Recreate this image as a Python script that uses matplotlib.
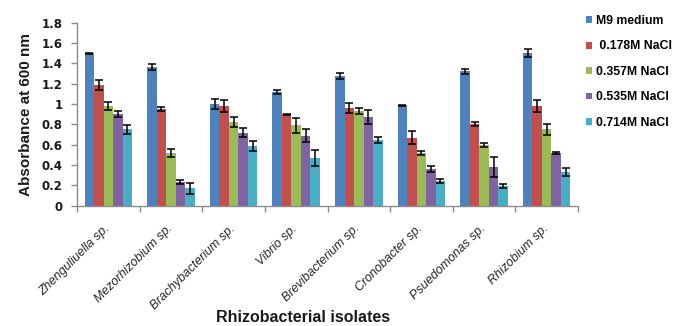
import numpy as np
import matplotlib
matplotlib.use("Agg")
import matplotlib.pyplot as plt
from matplotlib.patches import Patch
from matplotlib import transforms

# Absorbance (OD600) of rhizobacterial isolates under increasing NaCl
isolates = ["Zhenguliuella sp.", "Mezorhizobium sp.", "Brachybacterium sp.",
            "Vibrio sp.", "Brevibacterium sp.", "Cronobacter sp.",
            "Psuedomonas sp.", "Rhizobium sp."]
series_names = ["M9 medium", " 0.178M NaCl", "0.357M NaCl",
                "0.535M NaCl", "0.714M NaCl"]

m9_medium = [1.50, 1.36, 1.00, 1.12, 1.28, 0.99, 1.32, 1.50]
nacl_0178 = [1.19, 0.95, 0.98, 0.90, 0.96, 0.67, 0.80, 0.98]
nacl_0357 = [0.98, 0.52, 0.82, 0.79, 0.93, 0.52, 0.60, 0.75]
nacl_0535 = [0.90, 0.23, 0.72, 0.69, 0.87, 0.36, 0.38, 0.52]
nacl_0714 = [0.75, 0.17, 0.59, 0.47, 0.65, 0.24, 0.19, 0.33]

m9_err = [0.005, 0.03, 0.05, 0.02, 0.03, 0.005, 0.02, 0.04]
nacl_0178_err = [0.05, 0.02, 0.06, 0.005, 0.05, 0.06, 0.02, 0.06]
nacl_0357_err = [0.04, 0.04, 0.05, 0.07, 0.03, 0.02, 0.02, 0.05]
nacl_0535_err = [0.03, 0.02, 0.04, 0.06, 0.07, 0.03, 0.10, 0.01]
nacl_0714_err = [0.04, 0.05, 0.05, 0.08, 0.03, 0.02, 0.02, 0.04]

yticks = [0, 0.2, 0.4, 0.6, 0.8, 1.0, 1.2, 1.4, 1.6, 1.8]
ytick_labels = ["0", "0.2", "0.4", "0.6", "0.8", "1", "1.2", "1.4", "1.6", "1.8"]

values = [m9_medium, nacl_0178, nacl_0357, nacl_0535, nacl_0714]
errors = [m9_err, nacl_0178_err, nacl_0357_err, nacl_0535_err, nacl_0714_err]
colors = ["#4F81BD", "#C0504D", "#9BBB59", "#8064A2", "#4BACC6"]

W, H = 673, 326
fig = plt.figure(figsize=(W / 100, H / 100), dpi=100)
ax = fig.add_axes([77 / W, 120.3 / H, (578 - 77) / W, (205.7 - 22.7) / H])

x = np.arange(len(isolates))
bw = 0.152
for i, (vals, errs, col) in enumerate(zip(values, errors, colors)):
    ax.bar(x + (i - 2) * bw, vals, width=bw, color=col, yerr=errs,
           error_kw=dict(ecolor="black", elinewidth=1.1, capsize=2.6,
                         capthick=1.1), zorder=2)

ax.set_xlim(-0.5, len(isolates) - 0.5)
ax.set_ylim(0, 1.8)

for side in ("top", "right"):
    ax.spines[side].set_visible(False)
for side in ("left", "bottom"):
    ax.spines[side].set_color("#8c8c8c")
    ax.spines[side].set_linewidth(1.0)

ax.set_yticks(yticks)
ax.set_yticklabels(ytick_labels, family="DejaVu Sans", fontweight="bold",
                   fontsize=8.5, color="#1a1a1a")
ax.tick_params(axis="y", length=4, width=1, color="#8c8c8c", pad=6.5)

# group separators on the category axis
ax.set_xticks(np.arange(len(isolates) + 1) - 0.5, minor=True)
ax.tick_params(axis="x", which="minor", length=4, color="#8c8c8c", width=1)
ax.set_xticks(x)
ax.set_xticklabels(isolates, rotation=45, ha="right", va="top",
                   family="Liberation Sans", style="italic", fontsize=9,
                   color="#262626")
ax.tick_params(axis="x", which="major", length=0, pad=12)
shift = transforms.ScaledTranslation(4 / 100, 0, fig.dpi_scale_trans)
for lab in ax.get_xticklabels():
    lab.set_transform(lab.get_transform() + shift)

fig.text(26 / W, 1 - 114 / H, "Absorbance at 600 nm", rotation=90,
         ha="center", va="center", family="Liberation Sans",
         fontweight="bold", fontsize=11, color="#1a1a1a")
fig.text(303 / W, 1 - 317 / H, "Rhizobacterial isolates", ha="center",
         va="center", family="Liberation Sans", fontweight="bold",
         fontsize=11.5, color="#1a1a1a")

handles = [Patch(facecolor=c, edgecolor="none") for c in colors]
fig.legend(handles, series_names, loc="upper left",
           bbox_to_anchor=(586 / W, 1 - 15 / H), frameon=False,
           prop=dict(family="Liberation Sans", weight="bold", size=8.8),
           handlelength=0.5, handleheight=0.5, handletextpad=0.35,
           labelspacing=1.1, borderaxespad=0, borderpad=0)

fig.savefig("out.png", dpi=100, facecolor="white")
